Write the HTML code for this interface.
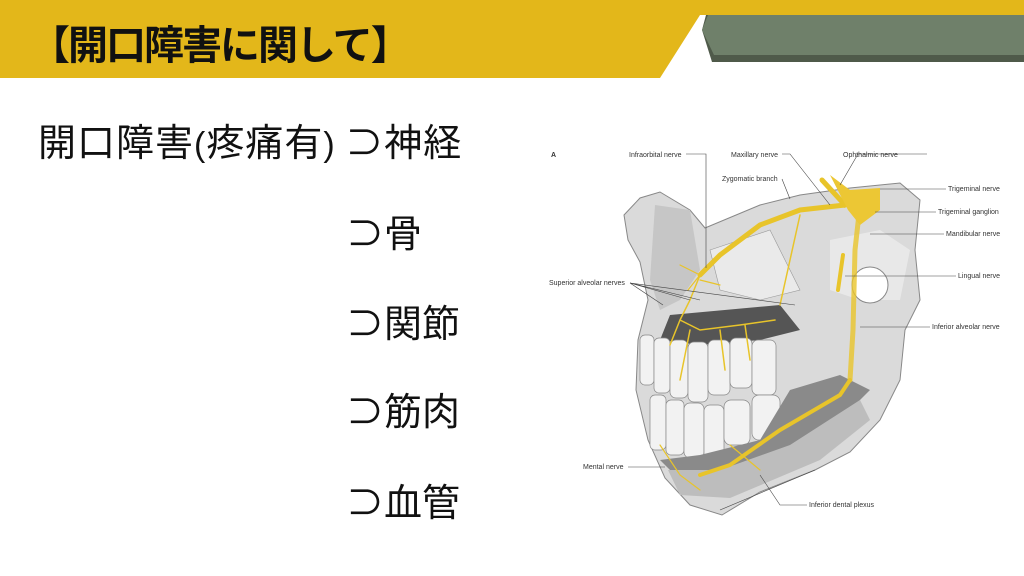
<!DOCTYPE html>
<html><head><meta charset="utf-8"><style>
html,body{margin:0;padding:0}
body{width:1024px;height:576px;position:relative;overflow:hidden;background:#fff;font-family:"Liberation Sans","Noto Sans CJK JP",sans-serif}
.t{position:absolute;font-size:38px;line-height:38px;color:#111;white-space:nowrap;font-family:"Noto Sans CJK JP","Liberation Sans",sans-serif}
svg text{font-family:"Liberation Sans",sans-serif;font-size:7px;fill:#333}
</style></head><body>
<svg width="1024" height="576" style="position:absolute;left:0;top:0">
<polygon points="0,0 1024,0 1024,15 700,15 660,78 0,78" fill="#e3b71a"/>
<polygon points="706,15 1024,15 1024,62 712,62 702,30" fill="#4f5a4a"/>
<polygon points="708,15 1024,15 1024,55 714,55 702,30" fill="#6f806a"/>
<g>
<polygon points="624,215 640,198 660,192 690,210 705,228 760,205 800,195 850,188 900,183 920,200 915,250 920,300 905,330 900,380 880,420 850,452 815,470 760,492 722,515 690,505 665,478 648,440 636,390 638,340 648,300 640,262 628,240" fill="#dadada" stroke="#888" stroke-width="1"/>
<polygon points="655,205 690,210 700,270 680,300 660,310 650,280" fill="#c6c6c6"/>
<polygon points="710,250 770,230 800,290 760,300 720,290" fill="#eaeaea" stroke="#999" stroke-width="0.6"/>
<polygon points="830,240 880,230 910,250 900,300 860,300 830,290" fill="#e8e8e8"/>
<circle cx="870" cy="285" r="18" fill="#fff" stroke="#888"/>
<polygon points="670,315 780,305 800,330 760,340 700,345 660,340" fill="#555"/>
<g fill="#f2f2f2" stroke="#888" stroke-width="0.7">
<rect x="640" y="335" width="14" height="50" rx="5"/><rect x="654" y="338" width="16" height="55" rx="5"/>
<rect x="670" y="340" width="18" height="58" rx="6"/><rect x="688" y="342" width="20" height="60" rx="6"/>
<rect x="708" y="340" width="22" height="55" rx="6"/><rect x="730" y="338" width="22" height="50" rx="6"/>
<rect x="752" y="340" width="24" height="55" rx="6"/>
<rect x="650" y="395" width="16" height="55" rx="5"/><rect x="666" y="400" width="18" height="55" rx="5"/>
<rect x="684" y="403" width="20" height="55" rx="6"/><rect x="704" y="405" width="20" height="55" rx="6"/>
<rect x="724" y="400" width="26" height="45" rx="7"/><rect x="752" y="395" width="28" height="45" rx="7"/>
</g>
<polygon points="790,390 840,375 870,390 830,430 780,460 720,480 680,480 660,460 700,455 760,440" fill="#8a8a8a"/>
<polygon points="668,470 720,470 790,445 860,400 870,420 820,460 730,498 680,495" fill="#bdbdbd"/>
<g fill="none" stroke="#e8c42a" stroke-linecap="round">
<path d="M822,180 L845,205 L870,195 M845,205 L800,210 L760,225 L720,255 L700,275" stroke-width="5"/>
<path d="M860,205 L855,250 L853,330 L850,380" stroke-width="5" opacity="0.8"/>
<path d="M850,380 L840,395 L780,430 L730,465 L700,475" stroke-width="4"/>
<path d="M843,255 L838,290" stroke-width="4"/>
<path d="M700,275 L690,300 L680,320 M680,320 L670,345 M680,320 L700,330 L740,325 L775,320 M690,330 L680,380 M720,330 L725,370 M745,325 L750,360 M800,215 L790,260 L780,305" stroke-width="1.5"/>
<path d="M700,275 L680,265 M700,275 L688,290 M700,280 L720,285" stroke-width="1.2"/>
<path d="M660,445 L680,475 L700,490 M730,445 L760,470" stroke-width="1.2"/>
</g>
<path d="M830,175 L850,190 L880,188 L880,210 L860,225 L848,210 Z" fill="#ecc734"/>
</g>
<g stroke="#444" stroke-width="0.6" fill="none">
<path d="M686,154 L706,154 L706,268"/>
<path d="M782,154 L790,154 L830,205"/>
<path d="M927,154 L858,154 L840,185"/>
<path d="M782,179 L790,199"/>
<path d="M946,189 L880,189"/>
<path d="M936,212 L875,212"/>
<path d="M944,234 L870,234"/>
<path d="M956,276 L845,276"/>
<path d="M630,283 L690,300 M630,283 L700,300 M630,283 L795,305 M630,283 L663,305"/>
<path d="M930,327 L860,327"/>
<path d="M628,467 L665,467"/>
<path d="M807,505 L780,505 L760,475"/>
<path d="M720,510 L815,470"/>
</g>
<text x="551" y="157" style="font-weight:bold">A</text>
<text x="629" y="157">Infraorbital nerve</text>
<text x="731" y="157">Maxillary nerve</text>
<text x="843" y="157">Ophthalmic nerve</text>
<text x="722" y="181">Zygomatic branch</text>
<text x="948" y="191">Trigeminal nerve</text>
<text x="938" y="214">Trigeminal ganglion</text>
<text x="946" y="236">Mandibular nerve</text>
<text x="958" y="278">Lingual nerve</text>
<text x="549" y="285">Superior alveolar nerves</text>
<text x="932" y="329">Inferior alveolar nerve</text>
<text x="583" y="469">Mental nerve</text>
<text x="809" y="507">Inferior dental plexus</text>
</svg>
<div class="t" style="left:30px;top:22px;font-size:40px;line-height:40px;letter-spacing:-2px;font-weight:bold">【開口障害に関して】</div>
<div class="t" style="left:38px;top:121px;letter-spacing:1px">開口障害<span style="font-family:'Liberation Sans',sans-serif;font-size:34px">(</span>疼痛有<span style="font-family:'Liberation Sans',sans-serif;font-size:34px">)</span> ⊃神経</div>
<div class="t" style="left:346px;top:212px">⊃骨</div>
<div class="t" style="left:346px;top:302px">⊃関節</div>
<div class="t" style="left:346px;top:390px">⊃筋肉</div>
<div class="t" style="left:346px;top:481px">⊃血管</div>
</body></html>
